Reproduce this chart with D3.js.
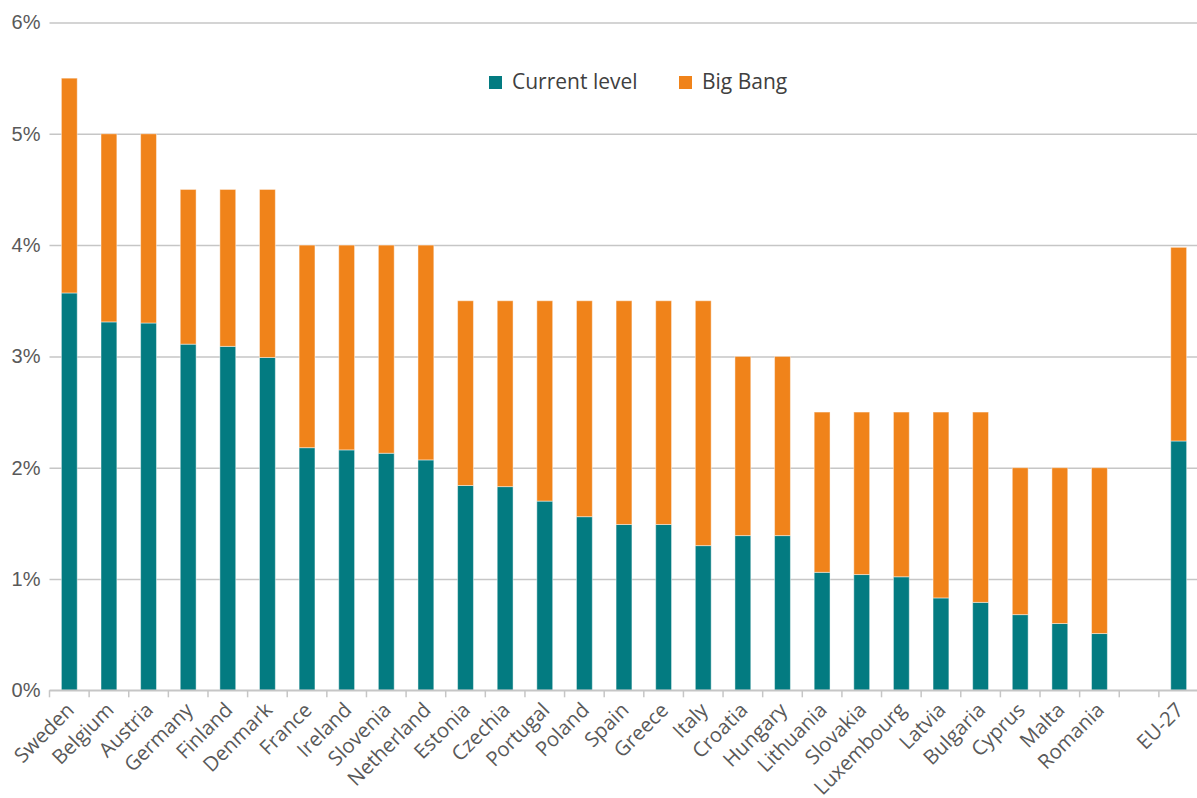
<!DOCTYPE html>
<html>
<head>
<meta charset="utf-8">
<script src="https://cdn.jsdelivr.net/npm/d3@7"></script>
<style>
  html, body { margin: 0; padding: 0; background: #ffffff; }
  svg { display: block; font-family: "Open Sans", "Noto Sans", sans-serif; }
</style>
</head>
<body>
<svg id="chart" width="1197" height="798"></svg>
<script>
// Countries (sorted by target total), a blank spacer slot, then the EU-27 aggregate
const countries = ["Sweden", "Belgium", "Austria", "Germany", "Finland", "Denmark", "France",
  "Ireland", "Slovenia", "Netherland", "Estonia", "Czechia", "Portugal", "Poland", "Spain",
  "Greece", "Italy", "Croatia", "Hungary", "Lithuania", "Slovakia", "Luxembourg", "Latvia",
  "Bulgaria", "Cyprus", "Malta", "Romania", "", "EU-27"];

// Current level (% of GDP)
const currentLevel = [3.57, 3.31, 3.30, 3.11, 3.09, 2.99, 2.18,
  2.16, 2.13, 2.07, 1.84, 1.83, 1.70, 1.56, 1.49,
  1.49, 1.30, 1.39, 1.39, 1.06, 1.04, 1.02, 0.83,
  0.79, 0.68, 0.60, 0.51, null, 2.24];

// Additional amount under the Big Bang scenario (% of GDP)
const bigBang = [1.93, 1.69, 1.70, 1.39, 1.41, 1.51, 1.82,
  1.84, 1.87, 1.93, 1.66, 1.67, 1.80, 1.94, 2.01,
  2.01, 2.20, 1.61, 1.61, 1.44, 1.46, 1.48, 1.67,
  1.71, 1.32, 1.40, 1.49, null, 1.74];

const seriesNames = ["Current level", "Big Bang"];
const seriesColors = ["#037b81", "#f0831a"];
const yTicks = [0, 1, 2, 3, 4, 5, 6];

const svg = d3.select("#chart");
const W = 1197, H = 798;
const margin = { left: 49.5, right: -1.5, top: 22.5, bottom: 107.7 };

const x = d3.scaleBand()
  .domain(countries.map((c, i) => i))
  .range([margin.left, W - margin.right])
  .paddingInner(0.6)
  .paddingOuter(0.3);

const y = d3.scaleLinear()
  .domain([0, 6])
  .range([H - margin.bottom, margin.top]);

// Gridlines and y tick labels
const yAxis = d3.axisLeft(y)
  .tickValues(yTicks)
  .tickSize(-(W - margin.right - margin.left))
  .tickFormat(d => d + "%");

const gy = svg.append("g")
  .attr("transform", `translate(${margin.left},0)`)
  .call(yAxis);
gy.select(".domain").remove();
gy.selectAll(".tick line")
  .attr("stroke", "#c6c6c6")
  .attr("stroke-width", 1.5);
gy.selectAll(".tick text")
  .attr("x", -9)
  .attr("fill", "#595959")
  .attr("font-size", 20);

// Stacked bars
const rows = countries.map((c, i) => ({ i, current: currentLevel[i], bigBang: bigBang[i] }))
  .filter(d => d.current !== null);
const stack = d3.stack().keys(["current", "bigBang"]);
const layers = stack(rows);

svg.append("g").selectAll("g")
  .data(layers)
  .join("g")
  .attr("fill", (d, k) => seriesColors[k])
  .selectAll("rect")
  .data(d => d)
  .join("rect")
  .attr("x", d => x(d.data.i))
  .attr("width", x.bandwidth())
  .attr("y", d => y(d[1]))
  .attr("height", d => y(d[0]) - y(d[1]))
  .attr("stroke", "rgba(255,255,255,0.45)")
  .attr("stroke-width", 1);

// Category axis: baseline, tick marks between categories, rotated labels
const base = y(0);
const step = x.step();
const gx = svg.append("g");
gx.append("line")
  .attr("x1", margin.left).attr("x2", W - margin.right)
  .attr("y1", base).attr("y2", base)
  .attr("stroke", "#c6c6c6").attr("stroke-width", 1.5);
gx.selectAll("line.tk")
  .data(d3.range(countries.length + 1))
  .join("line")
  .attr("class", "tk")
  .attr("x1", i => margin.left + i * step)
  .attr("x2", i => margin.left + i * step)
  .attr("y1", base).attr("y2", base + 7)
  .attr("stroke", "#c6c6c6").attr("stroke-width", 1.5);

gx.selectAll("text")
  .data(countries.map((c, i) => ({ c, i })).filter(d => d.c !== ""))
  .join("text")
  .attr("transform", d => `translate(${x(d.i) + x.bandwidth() / 2 + 1},${base + 16}) rotate(-45)`)
  .attr("text-anchor", "end")
  .attr("dy", "0.35em")
  .attr("fill", "#595959")
  .attr("font-size", 20.3)
  .text(d => d.c);

// Legend
const legendPos = [489, 679];
const legend = svg.append("g");
seriesNames.forEach((name, k) => {
  legend.append("rect")
    .attr("x", legendPos[k]).attr("y", 76)
    .attr("width", 13).attr("height", 13)
    .attr("fill", seriesColors[k]);
  legend.append("text")
    .attr("x", legendPos[k] + 23).attr("y", 89)
    .attr("fill", "#404040")
    .attr("font-size", 21)
    .text(name);
});
</script>
</body>
</html>
